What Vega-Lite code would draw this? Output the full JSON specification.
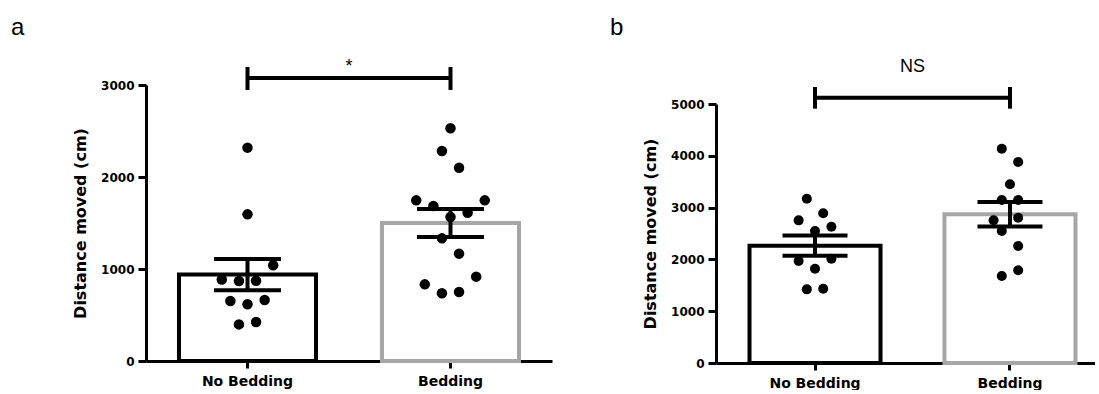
{
  "$schema": "https://vega.github.io/schema/vega-lite/v6.json",
  "padding": {"left": 11, "top": 15, "right": 0, "bottom": 0},
  "spacing": 58,
  "datasets": {
    "panelA": [
      {"group": "No Bedding", "distance": 2319, "swarm": 0},
      {"group": "No Bedding", "distance": 1594, "swarm": 0},
      {"group": "No Bedding", "distance": 1040, "swarm": 3},
      {"group": "No Bedding", "distance": 885, "swarm": -3},
      {"group": "No Bedding", "distance": 870, "swarm": -1},
      {"group": "No Bedding", "distance": 872, "swarm": 1},
      {"group": "No Bedding", "distance": 652, "swarm": -2},
      {"group": "No Bedding", "distance": 616, "swarm": 0},
      {"group": "No Bedding", "distance": 663, "swarm": 2},
      {"group": "No Bedding", "distance": 398, "swarm": -1},
      {"group": "No Bedding", "distance": 424, "swarm": 1},
      {"group": "Bedding", "distance": 2529, "swarm": 0},
      {"group": "Bedding", "distance": 2283, "swarm": -1},
      {"group": "Bedding", "distance": 2101, "swarm": 1},
      {"group": "Bedding", "distance": 1746, "swarm": -4},
      {"group": "Bedding", "distance": 1746, "swarm": 4},
      {"group": "Bedding", "distance": 1685, "swarm": -2},
      {"group": "Bedding", "distance": 1612, "swarm": 2},
      {"group": "Bedding", "distance": 1565, "swarm": 0},
      {"group": "Bedding", "distance": 1333, "swarm": -1},
      {"group": "Bedding", "distance": 1167, "swarm": 1},
      {"group": "Bedding", "distance": 917, "swarm": 3},
      {"group": "Bedding", "distance": 833, "swarm": -3},
      {"group": "Bedding", "distance": 736, "swarm": -1},
      {"group": "Bedding", "distance": 750, "swarm": 1}
    ],
    "panelB": [
      {"group": "No Bedding", "distance": 3172, "swarm": -1},
      {"group": "No Bedding", "distance": 2890, "swarm": 1},
      {"group": "No Bedding", "distance": 2754, "swarm": -2},
      {"group": "No Bedding", "distance": 2632, "swarm": 2},
      {"group": "No Bedding", "distance": 2548, "swarm": 0},
      {"group": "No Bedding", "distance": 1969, "swarm": -2},
      {"group": "No Bedding", "distance": 2014, "swarm": 2},
      {"group": "No Bedding", "distance": 1821, "swarm": 0},
      {"group": "No Bedding", "distance": 1422, "swarm": -1},
      {"group": "No Bedding", "distance": 1435, "swarm": 1},
      {"group": "Bedding", "distance": 4137, "swarm": -1},
      {"group": "Bedding", "distance": 3880, "swarm": 1},
      {"group": "Bedding", "distance": 3450, "swarm": 0},
      {"group": "Bedding", "distance": 3147, "swarm": -1},
      {"group": "Bedding", "distance": 3147, "swarm": 1},
      {"group": "Bedding", "distance": 2755, "swarm": -2},
      {"group": "Bedding", "distance": 2805, "swarm": 1},
      {"group": "Bedding", "distance": 2548, "swarm": -1},
      {"group": "Bedding", "distance": 2259, "swarm": 1},
      {"group": "Bedding", "distance": 1680, "swarm": -1},
      {"group": "Bedding", "distance": 1790, "swarm": 1}
    ]
  },
  "hconcat": [
    {
      "width": 406,
      "height": 276,
      "data": {"name": "panelA"},
      "title": {"text": "a", "anchor": "start", "frame": "group", "dx": -135},
      "resolve": {"scale": {"xOffset": "independent"}},
      "layer": [
        {
          "mark": {"type": "bar", "fill": "white", "strokeWidth": 4},
          "encoding": {
            "x": {"field": "group", "type": "nominal", "title": null,
                  "scale": {"domain": ["No Bedding", "Bedding"], "paddingInner": 0.325, "paddingOuter": 0.1625, "align": 0.5},
                  "axis": {"labelAngle": 0, "tickSize": 7, "labelPadding": 6, "labelFontSize": 14}},
            "y": {"aggregate": "mean", "field": "distance", "type": "quantitative", "title": "Distance moved (cm)",
                  "scale": {"domain": [0, 3000], "nice": false},
                  "axis": {"values": [0, 1000, 2000, 3000], "format": "d", "tickSize": 8, "labelPadding": 4, "labelFontSize": 12, "titleFontSize": 16, "titlePadding": 12}},
            "stroke": {"field": "group", "type": "nominal", "scale": {"domain": ["No Bedding", "Bedding"], "range": ["black", "#a6a6a6"]}, "legend": null}
          }
        },
        {
          "mark": {"type": "circle", "size": 110, "opacity": 1, "color": "black"},
          "encoding": {
            "x": {"field": "group", "type": "nominal", "title": null},
            "xOffset": {"field": "swarm", "type": "nominal", "scale": {"domain": [-8, -7, -6, -5, -4, -3, -2, -1, 0, 1, 2, 3, 4, 5, 6, 7, 8], "paddingInner": 0, "paddingOuter": 0}},
            "y": {"field": "distance", "type": "quantitative", "title": "Distance moved (cm)"}
          }
        },
        {
          "mark": {"type": "errorbar", "extent": "stderr", "size": 67, "thickness": 4, "color": "black", "opacity": 1,
                   "ticks": {"color": "black", "opacity": 1}, "rule": {"color": "black", "opacity": 1}},
          "encoding": {
            "x": {"field": "group", "type": "nominal", "title": null},
            "y": {"field": "distance", "type": "quantitative", "title": "Distance moved (cm)"}
          }
        },
        {
          "data": {"values": [{}]},
          "mark": {"type": "rule", "strokeWidth": 4, "color": "black"},
          "encoding": {
            "x": {"datum": "No Bedding"},
            "x2": {"datum": "Bedding"},
            "y": {"datum": 3076, "title": "Distance moved (cm)"}
          }
        },
        {
          "data": {"values": [{"end": "No Bedding"}, {"end": "Bedding"}]},
          "mark": {"type": "rule", "strokeWidth": 4, "color": "black"},
          "encoding": {
            "x": {"field": "end", "type": "nominal", "title": null},
            "y": {"datum": 2946, "title": "Distance moved (cm)"},
            "y2": {"datum": 3196}
          }
        },
        {
          "data": {"values": [{"label": "*"}]},
          "mark": {"type": "text", "font": "Liberation Sans", "fontSize": 18, "baseline": "alphabetic", "color": "black"},
          "encoding": {
            "x": {"datum": "No Bedding", "bandPosition": 1.241},
            "y": {"datum": 3141, "title": "Distance moved (cm)"},
            "text": {"field": "label"}
          }
        }
      ]
    },
    {
      "width": 379,
      "height": 278,
      "data": {"name": "panelB"},
      "title": {"text": "b", "anchor": "start", "frame": "group", "dx": -106},
      "resolve": {"scale": {"xOffset": "independent"}},
      "layer": [
        {
          "mark": {"type": "bar", "fill": "white", "strokeWidth": 4},
          "encoding": {
            "x": {"field": "group", "type": "nominal", "title": null,
                  "scale": {"domain": ["No Bedding", "Bedding"], "paddingInner": 0.328, "paddingOuter": 0.136, "align": 0.632},
                  "axis": {"labelAngle": 0, "tickSize": 7, "labelPadding": 6, "labelFontSize": 14}},
            "y": {"aggregate": "mean", "field": "distance", "type": "quantitative", "title": "Distance moved (cm)",
                  "scale": {"domain": [0, 5000], "range": [278, 19], "nice": false},
                  "axis": {"values": [0, 1000, 2000, 3000, 4000, 5000], "format": "d", "tickSize": 8, "labelPadding": 4, "labelFontSize": 12, "titleFontSize": 16, "titlePadding": 12}},
            "stroke": {"field": "group", "type": "nominal", "scale": {"domain": ["No Bedding", "Bedding"], "range": ["black", "#a6a6a6"]}, "legend": null}
          }
        },
        {
          "mark": {"type": "circle", "size": 100, "opacity": 1, "color": "black"},
          "encoding": {
            "x": {"field": "group", "type": "nominal", "title": null},
            "xOffset": {"field": "swarm", "type": "nominal", "scale": {"domain": [-8, -7, -6, -5, -4, -3, -2, -1, 0, 1, 2, 3, 4, 5, 6, 7, 8], "paddingInner": 0, "paddingOuter": 0}},
            "y": {"field": "distance", "type": "quantitative", "title": "Distance moved (cm)"}
          }
        },
        {
          "mark": {"type": "errorbar", "extent": "stderr", "size": 65, "thickness": 4, "color": "black", "opacity": 1,
                   "ticks": {"color": "black", "opacity": 1}, "rule": {"color": "black", "opacity": 1}},
          "encoding": {
            "x": {"field": "group", "type": "nominal", "title": null},
            "y": {"field": "distance", "type": "quantitative", "title": "Distance moved (cm)"}
          }
        },
        {
          "data": {"values": [{}]},
          "mark": {"type": "rule", "strokeWidth": 4, "color": "black"},
          "encoding": {
            "x": {"datum": "No Bedding"},
            "x2": {"datum": "Bedding"},
            "y": {"datum": 5122, "title": "Distance moved (cm)"}
          }
        },
        {
          "data": {"values": [{"end": "No Bedding"}, {"end": "Bedding"}]},
          "mark": {"type": "rule", "strokeWidth": 4, "color": "black"},
          "encoding": {
            "x": {"field": "end", "type": "nominal", "title": null},
            "y": {"datum": 4910, "title": "Distance moved (cm)"},
            "y2": {"datum": 5328}
          }
        },
        {
          "data": {"values": [{"label": "NS"}]},
          "mark": {"type": "text", "font": "Liberation Sans", "fontSize": 18, "baseline": "alphabetic", "color": "black"},
          "encoding": {
            "x": {"datum": "No Bedding", "bandPosition": 1.244},
            "y": {"datum": 5618, "title": "Distance moved (cm)"},
            "text": {"field": "label"}
          }
        }
      ]
    }
  ],
  "config": {
    "view": {"stroke": null},
    "axis": {
      "domainColor": "black", "domainWidth": 3, "tickColor": "black", "tickWidth": 3, "grid": false,
      "labelFont": "DejaVu Sans", "labelFontWeight": "bold", "labelColor": "black",
      "titleFont": "DejaVu Sans", "titleFontWeight": "bold", "titleColor": "black"
    },
    "title": {"font": "Liberation Sans", "fontSize": 24, "fontWeight": "normal", "color": "black", "offset": 18}
  }
}
